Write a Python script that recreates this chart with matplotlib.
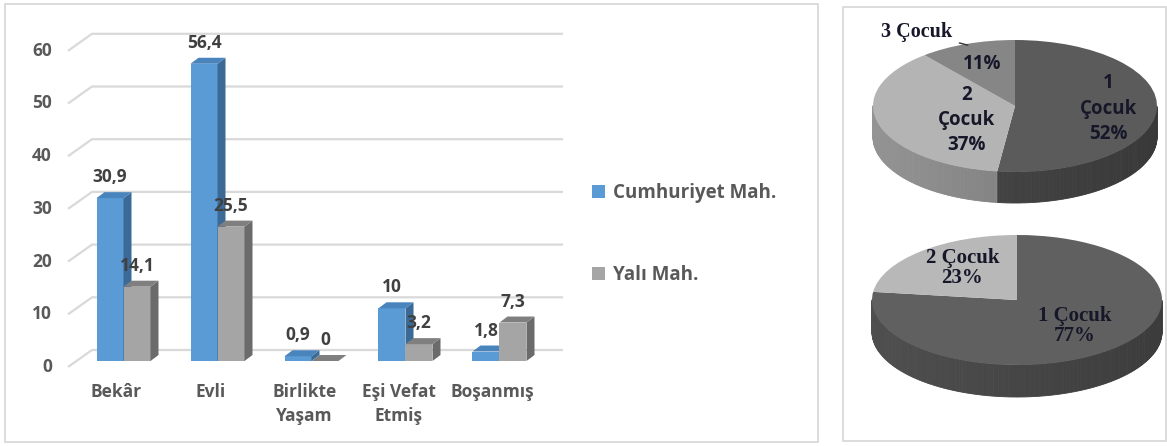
import numpy as np
import matplotlib
matplotlib.use("Agg")
import matplotlib.pyplot as plt
from matplotlib.patches import Polygon, Rectangle

# marital status by neighbourhood (%)
categories = ["Bekâr", "Evli", "Birlikte\nYaşam", "Eşi Vefat\nEtmiş", "Boşanmış"]
cumhuriyet = [30.9, 56.4, 0.9, 10, 1.8]
yali = [14.1, 25.5, 0, 3.2, 7.3]
series_names = ["Cumhuriyet Mah.", "Yalı Mah."]
yticks = [0, 10, 20, 30, 40, 50, 60]

# number of children (%)
pie_top_labels = ["1 Çocuk", "2 Çocuk", "3 Çocuk"]
pie_top_values = [52, 37, 11]
pie_bot_labels = ["1 Çocuk", "2 Çocuk"]
pie_bot_values = [77, 23]

W, H = 1167, 446
fig = plt.figure(figsize=(W / 100, H / 100), dpi=100)


def fx(px):
    return px / W


def fy(py):
    return 1 - py / H


SANS = "Open Sans"
SERIF = "Liberation Serif"
TXT = "#595959"

# panel frames
for x0, y0, x1, y1 in [(5, 4, 818, 442), (843, 7, 1166, 441)]:
    fig.add_artist(Rectangle((fx(x0), fy(y1)), fx(x1) - fx(x0), fy(y0) - fy(y1),
                             transform=fig.transFigure, fill=False,
                             ec="#d9d9d9", lw=1.3))

# ---- bar chart (pseudo 3d) ----
CAT_PX, UNIT_PX, X0_PX, BASE_PX = 94.0, 5.27, 123.5, 361.0
ax = fig.add_axes([0, 0, fx(820), 1])
ax.axis("off")
ax.set_xlim(-X0_PX / CAT_PX, (820 - X0_PX) / CAT_PX)
ax.set_ylim((BASE_PX - H) / UNIT_PX, BASE_PX / UNIT_PX)

dx = 8 / CAT_PX
dy = 6 / UNIT_PX
w = 27 / CAT_PX
wall_back = 11 / UNIT_PX
front_left = (68 - X0_PX) / CAT_PX
back_left = (92 - X0_PX) / CAT_PX
back_right = (563 - X0_PX) / CAT_PX

for v in yticks:
    ax.plot([front_left, back_left, back_right],
            [v - dy, v + wall_back, v + wall_back],
            color="#d9d9d9", lw=1.6, zorder=0, solid_capstyle="butt")
    ax.text(front_left - 16 / CAT_PX, v - dy, str(v), ha="right", va="center",
            fontsize=12.5, fontweight="bold", family=SANS, color=TXT)


def fmt(v):
    return f"{v:g}".replace(".", ",")


x = np.arange(len(categories))
series = [
    (cumhuriyet, -w / 2, ("#5b9bd5", "#3b6a97", "#4a84bd"), 3),
    (yali, w / 2, ("#a5a5a5", "#6b6b6b", "#7f7f7f"), 4),
]
handles = []
for vals, off, (c_front, c_side, c_top), z in series:
    bars = ax.bar(x + off, vals, width=w, color=c_front, zorder=z, lw=0)
    handles.append(bars)
    for xi, v in zip(x + off, vals):
        r = xi + w / 2
        l = xi - w / 2
        ax.add_patch(Polygon([(r, 0), (r + dx, dy), (r + dx, v + dy), (r, v)],
                             closed=True, color=c_side, lw=0, zorder=z))
        ax.add_patch(Polygon([(l, v), (l + dx, v + dy), (r + dx, v + dy), (r, v)],
                             closed=True, color=c_top, lw=0, zorder=z))
        ax.text(xi, v + dy + 15 / UNIT_PX, fmt(v), ha="center", va="center",
                fontsize=12.5, fontweight="bold", family=SANS, color="#404040",
                zorder=10)

for xi, cat in zip(x, categories):
    ax.text(xi - 7 / CAT_PX, (BASE_PX - 383) / UNIT_PX, cat, ha="center", va="top",
            fontsize=12.5, fontweight="bold", family=SANS, color=TXT,
            linespacing=1.45)

ax.legend(handles=handles, labels=series_names, loc="upper left",
          bbox_to_anchor=(fx(592), fy(183)), bbox_transform=fig.transFigure,
          frameon=False, handlelength=0.7, handleheight=0.7, handletextpad=0.42,
          labelspacing=3.3, borderpad=0, borderaxespad=0, labelcolor=TXT,
          prop={"family": SANS, "weight": "bold", "size": 13.5})


# ---- 3d pies ----
def pie3d(cx, cy, rx, ry, depth_px, values, colors):
    h = depth_px / ry
    left, right = cx - 1.1 * rx, cx + 1.1 * rx
    top, bottom = cy - 1.1 * ry, cy + (1 + h + 0.1) * ry
    pax = fig.add_axes([fx(left), fy(bottom), fx(right) - fx(left), fy(top) - fy(bottom)])
    wedges, _ = pax.pie(values, colors=colors, startangle=90, counterclock=False,
                        wedgeprops=dict(linewidth=0, zorder=3))
    pax.set_aspect("auto")
    pax.set_xlim(-1.1, 1.1)
    pax.set_ylim(-1 - h - 0.1, 1.1)
    pax.axis("off")
    for wdg, c in zip(wedges, colors):
        base = np.array(matplotlib.colors.to_rgb(c))
        t = np.radians(np.arange(wdg.theta1, wdg.theta2 + 0.5, 1.0))
        t[-1] = min(t[-1], np.radians(wdg.theta2))
        for a, b in zip(t[:-1], t[1:]):
            m = (a + b) / 2
            if np.sin(m) > 0:
                continue
            shade = 0.72 - 0.10 * np.cos(m)
            col = np.clip(base * shade, 0, 1)
            pax.add_patch(Polygon([(np.cos(a), np.sin(a)), (np.cos(b), np.sin(b)),
                                   (np.cos(b), np.sin(b) - h), (np.cos(a), np.sin(a) - h)],
                                  closed=True, fc=col, ec=col, lw=0.6, zorder=1))
    mids = [(wd.theta1 + wd.theta2) / 2 for wd in wedges]
    return pax, mids


def label_pos(mid_deg, dist, turn):
    a = np.radians(mid_deg + turn)
    return dist * np.cos(a), dist * np.sin(a)


PIE_TXT = "#17172a"
pax1, mids1 = pie3d(1015, 106, 142, 66, 31, pie_top_values,
                    ["#5b5b5b", "#b4b4b4", "#868686"])
dist1 = [0.66, 0.40, 0.68]
turn1 = [0, 16, 0]
for i, (lab, v) in enumerate(zip(pie_top_labels, pie_top_values)):
    pos = label_pos(mids1[i], dist1[i], turn1[i])
    if i < 2:
        txt = lab.replace(" ", "\n") + f"\n{v}%"
    else:
        txt = f"{v}%"
    pax1.text(*pos, txt, ha="center", va="center", fontsize=13.5, fontweight="bold",
              family=SANS, color=PIE_TXT, linespacing=1.35, zorder=5)
pax1.annotate(pie_top_labels[2], xy=label_pos(mids1[2], 0.98, 0),
              xytext=(-0.44, 1.12), ha="right", va="center", fontsize=14.5,
              fontweight="bold", family=SERIF, color=PIE_TXT, zorder=5,
              annotation_clip=False,
              arrowprops=dict(arrowstyle="-", color="#333333", lw=1,
                              shrinkA=3, shrinkB=0))

pax2, mids2 = pie3d(1017, 300, 145, 65, 32, pie_bot_values,
                    ["#606060", "#b8b8b8"])
dist2 = [0.56, 0.62]
turn2 = [4, -4]
for i, (lab, v) in enumerate(zip(pie_bot_labels, pie_bot_values)):
    pos = label_pos(mids2[i], dist2[i], turn2[i])
    pax2.text(*pos, f"{lab}\n{v}%", ha="center", va="center", fontsize=15,
              fontweight="bold", family=SERIF, color=PIE_TXT, linespacing=1.0,
              zorder=5)

fig.savefig("out.png", dpi=100)
